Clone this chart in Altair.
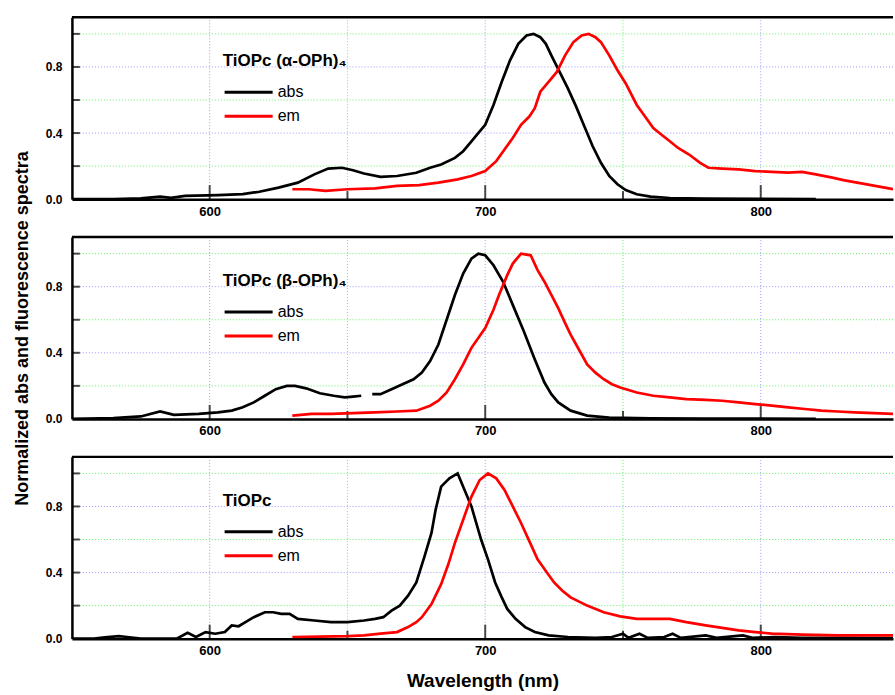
import altair as alt
import pandas as pd

FONT = "Liberation Sans"
X_MIN, X_MAX = 550, 848
Y_MAX = 1.1

x_major = [600, 700, 800]
x_minor = [650, 750]
y_major = [0.0, 0.4, 0.8]
y_minor = [0.2, 0.6, 1.0]

# ---------------- Panel 1: TiOPc(alpha-OPh)4 ----------------
p1_abs_wl = [550, 565, 575, 582, 586, 591, 603, 612, 618, 625, 632, 638, 643, 648, 652, 656, 662, 668, 675, 680,
             684, 689, 692, 695, 698, 700, 703, 706, 709, 712, 715, 717.5, 720, 722, 724, 727, 730, 733, 736, 739,
             742, 745, 748, 751, 755, 760, 767, 780, 800, 820]
p1_abs_val = [0.0, 0.0, 0.005, 0.015, 0.008, 0.02, 0.025, 0.03, 0.045, 0.07, 0.1, 0.15, 0.185, 0.19, 0.175, 0.155,
              0.135, 0.14, 0.16, 0.19, 0.21, 0.25, 0.29, 0.35, 0.41, 0.45, 0.57, 0.71, 0.84, 0.94, 0.99, 1.0, 0.98,
              0.94, 0.87, 0.77, 0.67, 0.56, 0.44, 0.32, 0.22, 0.14, 0.09, 0.055, 0.03, 0.015, 0.007, 0.004, 0.002,
              0.001]
p1_abs_seg = [1] * len(p1_abs_wl)
p1_em_wl = [630, 636, 642, 650, 660, 668, 676, 683, 690, 695, 700, 704, 707, 710, 713, 716, 718, 720, 723, 726,
            729, 732, 735, 737.5, 740, 742, 745, 748, 751, 755, 758, 761, 764, 767, 770, 774, 778, 781, 786, 792,
            798, 804, 810, 815, 820, 826, 830, 835, 840, 845, 848]
p1_em_val = [0.06, 0.06, 0.05, 0.06, 0.065, 0.08, 0.085, 0.1, 0.12, 0.14, 0.17, 0.23, 0.3, 0.37, 0.45, 0.5, 0.55,
             0.65, 0.71, 0.77, 0.87, 0.95, 0.99, 1.0, 0.98, 0.95, 0.87, 0.78, 0.7, 0.57, 0.5, 0.43, 0.39, 0.35,
             0.31, 0.27, 0.22, 0.19, 0.185, 0.18, 0.17, 0.165, 0.16, 0.165, 0.15, 0.13, 0.115, 0.1, 0.085, 0.07,
             0.06]

# ---------------- Panel 2: TiOPc(beta-OPh)4 ----------------
p2_abs_wl = [550, 565, 575, 582, 587, 596, 603, 608, 612, 616, 620, 624, 628, 631, 635, 640, 645, 649, 652, 655,
             659, 662, 666, 670, 674, 677, 680, 683, 686, 689, 692, 695, 697.5, 700, 703, 706.5, 710, 714, 718,
             721.5, 724, 726.5, 731, 737, 745, 760, 780, 800, 820]
p2_abs_val = [0.0, 0.005, 0.015, 0.045, 0.025, 0.03, 0.04, 0.05, 0.07, 0.1, 0.14, 0.18, 0.2, 0.2, 0.185, 0.155,
              0.14, 0.13, 0.135, 0.14,
              0.15, 0.15, 0.18, 0.21, 0.24, 0.28, 0.35, 0.45, 0.6, 0.75, 0.88, 0.97, 1.0, 0.99, 0.93, 0.83, 0.69,
              0.53, 0.36, 0.22, 0.15, 0.1, 0.05, 0.02, 0.008, 0.004, 0.002, 0.002, 0.001]
p2_abs_seg = [1] * 20 + [2] * 29
p2_em_wl = [630, 637, 644, 652, 660, 668, 675, 680, 683, 686, 689, 692, 695, 700, 703, 705, 708, 710, 713, 716.5,
            719, 721.5, 724, 726.5, 729, 731, 734, 737, 740, 743, 746, 749, 755, 761, 767, 773, 780, 786, 792,
            798, 804, 810, 816, 822, 828, 834, 841, 848]
p2_em_val = [0.02, 0.03, 0.03, 0.035, 0.04, 0.045, 0.05, 0.08, 0.11, 0.16, 0.24, 0.33, 0.43, 0.55, 0.66, 0.75,
             0.87, 0.94, 1.0, 0.99, 0.9, 0.83, 0.75, 0.67, 0.58, 0.51, 0.42, 0.33, 0.28, 0.24, 0.21, 0.19, 0.16,
             0.14, 0.13, 0.12, 0.115, 0.11, 0.1, 0.09, 0.08, 0.07, 0.06, 0.05, 0.045, 0.04, 0.035, 0.03]

# ---------------- Panel 3: TiOPc ----------------
p3_abs_wl = [550, 558, 562, 567, 570, 575, 588, 592, 595, 598.5, 602, 605.5, 608, 610.5, 613, 616, 620, 623, 626,
             629, 632, 638, 644, 650, 656, 660, 663, 666, 669, 672, 675, 678, 680.5, 682, 684, 687, 690, 692.5,
             695, 698.5, 701, 703.6, 706, 708, 711, 714.5, 718, 723, 730, 740, 746, 750, 752, 756, 759, 765, 768,
             771, 780, 784, 793.5, 797, 805, 815, 830, 848]
p3_abs_val = [0.0, 0.0, 0.008, 0.015, 0.01, 0.0, 0.0, 0.035, 0.01, 0.04, 0.03, 0.04, 0.08, 0.075, 0.1, 0.13, 0.16,
              0.16, 0.15, 0.15, 0.12, 0.11, 0.1, 0.1, 0.11, 0.12, 0.13, 0.17, 0.2, 0.26, 0.34, 0.5, 0.64, 0.78,
              0.92, 0.97, 1.0, 0.9, 0.8, 0.6, 0.48, 0.34, 0.25, 0.18, 0.12, 0.07, 0.04, 0.02, 0.01, 0.005, 0.01,
              0.03, 0.005, 0.03, 0.005, 0.01, 0.03, 0.005, 0.02, 0.005, 0.02, 0.005, 0.01, 0.005, 0.005, 0.003]
p3_abs_seg = [1] * len(p3_abs_wl)
p3_em_wl = [630, 640, 650, 656, 662, 668, 672, 675, 677, 680.5, 684, 686.6, 689, 692, 695, 698, 701, 704, 707, 710,
            713, 716, 719, 722, 725, 728, 731, 737, 743, 749, 755, 761, 767, 773, 780, 786, 792, 798, 804, 815,
            828, 848]
p3_em_val = [0.01, 0.012, 0.015, 0.02, 0.03, 0.04, 0.07, 0.1, 0.13, 0.21, 0.33, 0.45, 0.58, 0.72, 0.86, 0.96, 1.0,
             0.97, 0.9, 0.8, 0.7, 0.59, 0.48, 0.41, 0.34, 0.29, 0.25, 0.2, 0.16, 0.135, 0.12, 0.12, 0.12, 0.1, 0.08,
             0.065, 0.05, 0.04, 0.03, 0.025, 0.02, 0.02]

legend_titles = ["TiOPc (α-OPh)₄", "TiOPc (β-OPh)₄", "TiOPc"]
series_names = ["abs", "em"]
series_colors = ["#000000", "#ff0000"]
x_title = "Wavelength (nm)"
y_title = "Normalized abs and fluorescence spectra"

W, H = 822, 182


def panel(abs_wl, abs_val, abs_seg, em_wl, em_val, legend_title, show_x_title, show_y_title):
    rows = []
    for w, v, s in zip(abs_wl, abs_val, abs_seg):
        rows.append({"wl": w, "val": v, "series": "abs", "seg": f"abs{s}"})
    for w, v in zip(em_wl, em_val):
        rows.append({"wl": w, "val": v, "series": "em", "seg": "em"})
    df = pd.DataFrame(rows)

    xs = alt.Scale(domain=[X_MIN, X_MAX], nice=False, zero=False)
    ys = alt.Scale(domain=[0, Y_MAX], nice=False, zero=False)
    xaxis = alt.Axis(values=x_major, ticks=False, grid=False, domainColor="black", domainWidth=2.5,
                     labelFont=FONT, labelFontSize=13, labelFontWeight="bold", labelColor="black",
                     labelPadding=6, title=(x_title if show_x_title else None), titleFont=FONT,
                     titleFontSize=19, titleFontWeight="bold", titleColor="black", titlePadding=14)
    yaxis = alt.Axis(values=y_major, format=".1f", ticks=False, grid=False, domainColor="black",
                     domainWidth=2.5, labelFont=FONT, labelFontSize=12, labelFontWeight="bold",
                     labelColor="black", labelPadding=10, title=(y_title if show_y_title else None),
                     titleFont=FONT, titleFontSize=18, titleFontWeight="bold", titleColor="black",
                     titlePadding=14)

    def X(f):
        return alt.X(f, scale=xs, axis=xaxis)

    def Y(f):
        return alt.Y(f, scale=ys, axis=yaxis)

    gx_major = alt.Chart(pd.DataFrame({"gx": x_major})).mark_rule(
        color="#9a9aff", strokeWidth=1, strokeDash=[1, 2]).encode(x=X("gx:Q"))
    gx_minor = alt.Chart(pd.DataFrame({"gx": x_minor})).mark_rule(
        color="#66ee66", strokeWidth=1, strokeDash=[1, 2]).encode(x=X("gx:Q"))
    gy_major = alt.Chart(pd.DataFrame({"gy": [0.4, 0.8]})).mark_rule(
        color="#9a9aff", strokeWidth=1, strokeDash=[1, 2]).encode(y=Y("gy:Q"))
    gy_minor = alt.Chart(pd.DataFrame({"gy": y_minor})).mark_rule(
        color="#66ee66", strokeWidth=1, strokeDash=[1, 2]).encode(y=Y("gy:Q"))

    tx_major = alt.Chart(pd.DataFrame({"tx": x_major, "base": [0.0] * 3})).mark_tick(
        orient="vertical", size=14, thickness=2, color="black", yOffset=-7).encode(x=X("tx:Q"), y=Y("base:Q"))
    tx_minor = alt.Chart(pd.DataFrame({"tx": x_minor, "base": [0.0] * 2})).mark_tick(
        orient="vertical", size=8, thickness=2, color="black", yOffset=-4).encode(x=X("tx:Q"), y=Y("base:Q"))
    ty = alt.Chart(pd.DataFrame({"ty": y_major[1:] + y_minor, "left": [X_MIN] * 5})).mark_tick(
        orient="horizontal", size=8, thickness=2, color="black", xOffset=4).encode(x=X("left:Q"), y=Y("ty:Q"))

    lines = alt.Chart(df).mark_line(strokeWidth=2.7, clip=True).encode(
        x=X("wl:Q"),
        y=Y("val:Q"),
        detail="seg:N",
        color=alt.Color("series:N",
                        scale=alt.Scale(domain=series_names, range=series_colors),
                        legend=alt.Legend(title=legend_title, orient="none", legendX=151, legendY=36,
                                          symbolType="M-1,0H2.4", symbolSize=800, symbolStrokeWidth=3,
                                          labelFont=FONT, labelFontSize=16, labelColor="black",
                                          titleFont=FONT, titleFontSize=17, titleFontWeight="bold",
                                          titleColor="black", titlePadding=6, rowPadding=0,
                                          labelOffset=23, padding=0)),
    )

    top = alt.Chart(pd.DataFrame({"top": [Y_MAX]})).mark_rule(
        color="black", strokeWidth=2.5).encode(y=Y("top:Q"))

    return alt.layer(gx_major, gx_minor, gy_major, gy_minor, tx_major, tx_minor, ty, lines, top).properties(
        width=W, height=H)


p1 = panel(p1_abs_wl, p1_abs_val, p1_abs_seg, p1_em_wl, p1_em_val, legend_titles[0], False, False)
p2 = panel(p2_abs_wl, p2_abs_val, p2_abs_seg, p2_em_wl, p2_em_val, legend_titles[1], False, True)
p3 = panel(p3_abs_wl, p3_abs_val, p3_abs_seg, p3_em_wl, p3_em_val, legend_titles[2], True, False)

chart = alt.vconcat(p1, p2, p3, spacing=38, bounds="flush").resolve_scale(
    color="independent").resolve_legend(color="independent").properties(
    padding={"left": 13, "top": 15, "right": 0, "bottom": 0}, background="white"
).configure_view(strokeWidth=0)

chart.save("out.html", embed_options={"renderer": "svg", "actions": False})
